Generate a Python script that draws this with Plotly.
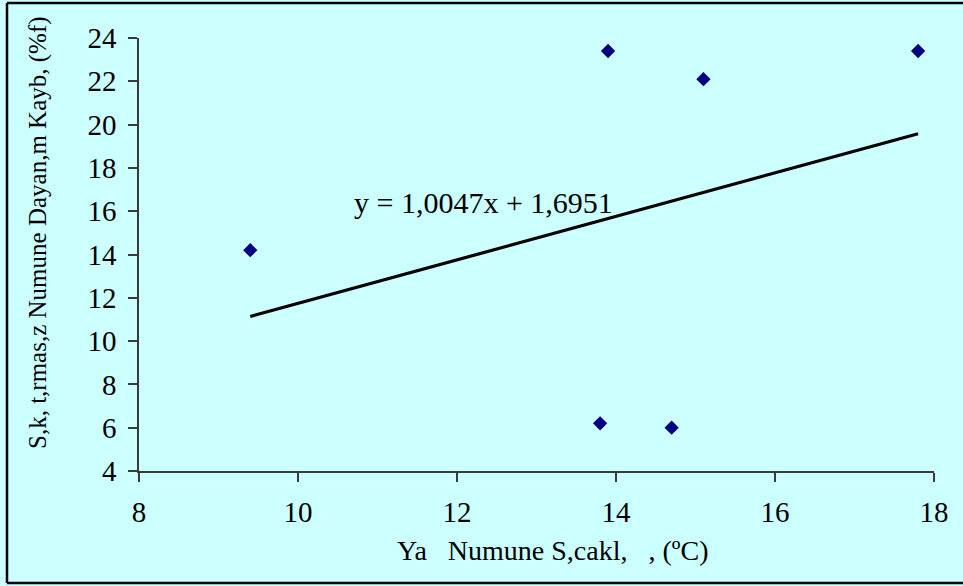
import plotly.graph_objects as go

# Sample temperature (x) vs. strength loss (y)
temp_c = [9.4, 13.9, 15.1, 17.8, 13.8, 14.7]
loss_pct = [14.2, 23.4, 22.1, 23.4, 6.2, 6.0]

# Linear trend as reported by the fit label
slope = 1.0047
intercept = 1.6951
trend_x = [min(temp_c), max(temp_c)]
trend_y = [slope * v + intercept for v in trend_x]

x_ticks = [8, 10, 12, 14, 16, 18]
y_ticks = [4, 6, 8, 10, 12, 14, 16, 18, 20, 22, 24]

FONT = "Liberation Serif, Times New Roman, serif"
BG = "#CCFFFF"
AXIS = "#3a3a3a"

fig = go.Figure()
fig.add_trace(go.Scatter(
    x=temp_c, y=loss_pct, mode="markers",
    marker=dict(symbol="diamond", size=11, color="#000080"),
    showlegend=False, hoverinfo="x+y",
))
fig.add_trace(go.Scatter(
    x=trend_x, y=trend_y, mode="lines",
    line=dict(color="black", width=3.2),
    showlegend=False, hoverinfo="skip",
))

W, H = 963, 586
L, R, T, B = 139, 29, 38, 115
pw, ph = W - L - R, H - T - B


def px_x(p):
    return (p - L) / pw


def px_y(p):
    return (H - B - p) / ph


# Frame around the chart: left, top and bottom edges
frame_left, frame_right = px_x(7), px_x(1000)
frame_top, frame_bottom = px_y(3), px_y(583)
frame_line = dict(color="black", width=2.5)
frame = [
    dict(type="line", xref="paper", yref="paper", x0=frame_left, x1=frame_left,
         y0=frame_bottom, y1=frame_top, line=frame_line, layer="above"),
    dict(type="line", xref="paper", yref="paper", x0=frame_left, x1=frame_right,
         y0=frame_top, y1=frame_top, line=frame_line, layer="above"),
    dict(type="line", xref="paper", yref="paper", x0=frame_left, x1=frame_right,
         y0=frame_bottom, y1=frame_bottom, line=frame_line, layer="above"),
]

fig.update_layout(
    width=W, height=H,
    margin=dict(l=L, r=R, t=T, b=B, pad=0),
    paper_bgcolor=BG, plot_bgcolor=BG,
    font=dict(family=FONT, size=28, color="black"),
    xaxis=dict(
        range=[8, 18], tickvals=x_ticks, showgrid=False, zeroline=False,
        showline=True, linecolor=AXIS, linewidth=1.5,
        ticks="outside", ticklen=9, tickcolor=AXIS, tickwidth=1.5,
        ticklabelstandoff=5,
        tickfont=dict(family=FONT, size=29, color="black"),
    ),
    yaxis=dict(
        range=[4, 24], tickvals=y_ticks, showgrid=False, zeroline=False,
        showline=True, linecolor=AXIS, linewidth=1.5,
        ticks="outside", ticklen=9, tickcolor=AXIS, tickwidth=1.5,
        ticklabelstandoff=6,
        tickfont=dict(family=FONT, size=29, color="black"),
    ),
    annotations=[
        dict(x=12.33, y=16.38, xref="x", yref="y",
             text="y = 1,0047x + 1,6951", showarrow=False,
             xanchor="center", yanchor="middle",
             font=dict(family=FONT, size=30, color="black")),
        dict(x=px_x(553), y=px_y(550), xref="paper", yref="paper",
             text="Ya\u00a0\u00a0\u00a0Numune S,cakl,\u00a0\u00a0\u00a0, (ºC)",
             showarrow=False, xanchor="center", yanchor="middle",
             font=dict(family=FONT, size=28, color="black")),
        dict(x=px_x(38), y=px_y(233), xref="paper", yref="paper",
             text="S,k, t,rmas,z Numune Dayan,m Kayb, (%f)",
             showarrow=False, textangle=-90, xanchor="center", yanchor="middle",
             font=dict(family=FONT, size=25, color="black")),
    ],
    shapes=frame,
)

fig.write_html("out.html")
